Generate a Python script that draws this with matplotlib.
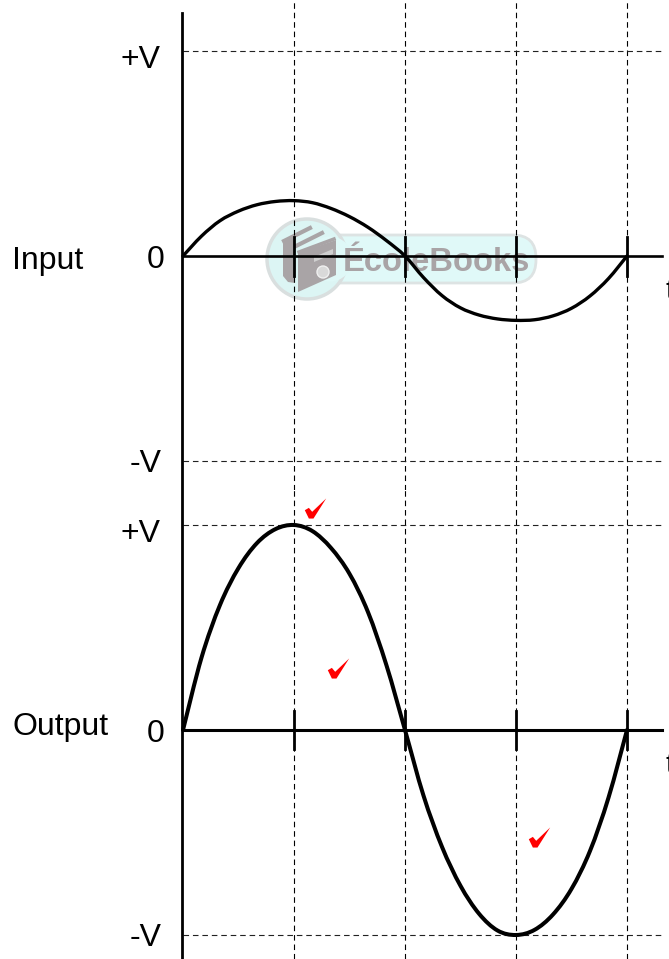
import numpy as np
import matplotlib
matplotlib.use('Agg')
import matplotlib.pyplot as plt
from matplotlib.patches import Circle, FancyBboxPatch, PathPatch, Polygon
from matplotlib.path import Path

plt.rcParams['font.family'] = ['Liberation Sans', 'DejaVu Sans']

# %% Data
angle = np.arange(0, 375, 15)
v_input = [0.0, 0.097, 0.172, 0.219, 0.25, 0.266, 0.27, 0.26, 0.232, 0.192, 0.14, 0.075,
           0.0, -0.105, -0.193, -0.253, -0.288, -0.307, -0.314, -0.311, -0.292, -0.255, -0.195, -0.11, 0.0]
v_output = [0.0, 0.353, 0.61, 0.79, 0.912, 0.98, 1.0, 0.97, 0.888, 0.762, 0.575, 0.315,
            0.0, -0.32, -0.57, -0.76, -0.896, -0.978, -1.0, -0.975, -0.9, -0.775, -0.59, -0.33, 0.0]
grid_angles = [90, 180, 270, 360]
level_values = [1, 0, -1]
level_labels = ['+V', '0', '-V']
check_angles = [107, 126, 289]
check_values = [1.083, 0.304, -0.52]

# %% Layout, in pixels of the 669x959 picture
W, H = 669, 959
x0, px_per_deg = 183, 111 / 90
panels = [dict(name='Input', top=0, bottom=490, y_zero=256, amp=205, curve=v_input, tick=19.5,
               label_y=257, t_y=288, checks=False, curve_lw=2.4, axis_lw=1.9),
          dict(name='Output', top=490, bottom=959, y_zero=730, amp=205, curve=v_output, tick=19,
               label_y=724, t_y=762, checks=True, curve_lw=2.9, axis_lw=2.2)]
label_x = {'+V': 160, '0': 164, '-V': 162}
label_drop = {'+V': 5, '0': 1, '-V': 0}

# hand drawn tick mark, used as a marker
check_shape = [(-1, -0.16), (-0.62, 0.06), (-0.31, -0.31), (1, 0.94), (-0.19, -0.94), (-0.62, -0.94), (-1, -0.16)]
check_marker = Path(check_shape, closed=True)


def smooth_path(x, y):
    # bezier curve that passes through every read point
    pts = np.column_stack([x, y])
    ext = np.vstack([pts[0], pts, pts[-1]])
    verts = [pts[0]]
    codes = [Path.MOVETO]
    for i in range(1, len(ext) - 2):
        verts += [ext[i] + (ext[i + 1] - ext[i - 1]) / 6,
                  ext[i + 1] - (ext[i + 2] - ext[i]) / 6,
                  ext[i + 1]]
        codes += [Path.CURVE4] * 3
    return Path(verts, codes)


fig = plt.figure(figsize=(W / 100, H / 100), dpi=100)

# %% Watermark behind everything
bg = fig.add_axes([0, 0, 1, 1])
bg.set_xlim(0, W)
bg.set_ylim(H, 0)
bg.axis('off')
bg.add_patch(FancyBboxPatch((295, 235), 241, 48, boxstyle='round,pad=0,rounding_size=23',
                            fc='#e0f9f8', ec='#dde3e3', lw=2))
bg.add_patch(Circle((307, 259), 40, fc='#dcf5f4', ec='#d9dfdf', lw=2.5))
bg.add_patch(Circle((330, 259), 22.5, fc='#dff8f7', ec='none'))
book = '#a9a4a6'
bg.add_patch(Polygon([(283, 242), (295, 237), (295, 283), (288, 282), (283, 276)], fc=book, ec='none'))
bg.add_patch(Polygon([(298, 253), (336, 240), (336, 275), (298, 292)], fc=book, ec='none'))
bg.plot([284, 310], [241, 228], color=book, lw=3)
bg.plot([296, 322], [246, 233], color=book, lw=3)
bg.plot([299, 334], [252, 239], color=book, lw=2.5)
bg.add_patch(Polygon([(314, 257), (333, 249), (333, 254), (314, 262)], fc='#cfcfcf', ec='none'))
bg.add_patch(Circle((323, 272), 6, fc='#d9d9d9', ec='#f0f0f0', lw=1))
bg.text(343, 259, 'ÉcoleBooks', fontsize=23.6, fontweight='bold', color=book, ha='left', va='center_baseline')

# %% Panels
for p in panels:
    ax = fig.add_axes([0, 1 - p['bottom'] / H, 1, (p['bottom'] - p['top']) / H])
    ax.patch.set_alpha(0)
    ax.axis('off')
    ax.set_xlim(-x0 / px_per_deg, (W - x0) / px_per_deg)
    ax.set_ylim((p['y_zero'] - p['bottom']) / p['amp'], (p['y_zero'] - p['top']) / p['amp'])

    for a in grid_angles:
        ax.axvline(a, color='black', lw=0.8, dashes=(5, 3.5), zorder=1)
    for v in [1, -1]:
        ax.plot([0, 389], [v, v], color='#222222', lw=0.8, dashes=(5, 3.5), zorder=1)

    ax.plot([0, 388], [0, 0], color='black', lw=p['axis_lw'], zorder=3)
    ax.axvline(-0.8, color='black', lw=2.0, zorder=3,
               ymax=1 if p['top'] else 1 - 13 / (p['bottom'] - p['top']))
    for a in grid_angles:
        ax.plot([a, a], [-p['tick'] / p['amp'], p['tick'] / p['amp']], color='black', lw=2.0, zorder=3)

    ax.add_patch(PathPatch(smooth_path(angle, p['curve']), fc='none', ec='black', lw=p['curve_lw'],
                           zorder=4, capstyle='round', joinstyle='round'))

    for v, s in zip(level_values, level_labels):
        ax.text((label_x[s] - x0) / px_per_deg, v - label_drop[s] / p['amp'], s, fontsize=23,
                ha='right', va='center_baseline', zorder=5)
    ax.text((12 - x0) / px_per_deg, (p['y_zero'] - p['label_y']) / p['amp'], p['name'], fontsize=23,
            ha='left', va='center_baseline', zorder=5)
    ax.text((665 - x0) / px_per_deg, (p['y_zero'] - p['t_y']) / p['amp'], 't', fontsize=21,
            ha='left', va='center_baseline', zorder=5)

    if p['checks']:
        ax.plot(check_angles, check_values, ls='none', marker=check_marker, ms=15.4,
                mfc='#ff0000', mew=0, zorder=6, clip_on=False)

fig.savefig('out.png', dpi=100)
